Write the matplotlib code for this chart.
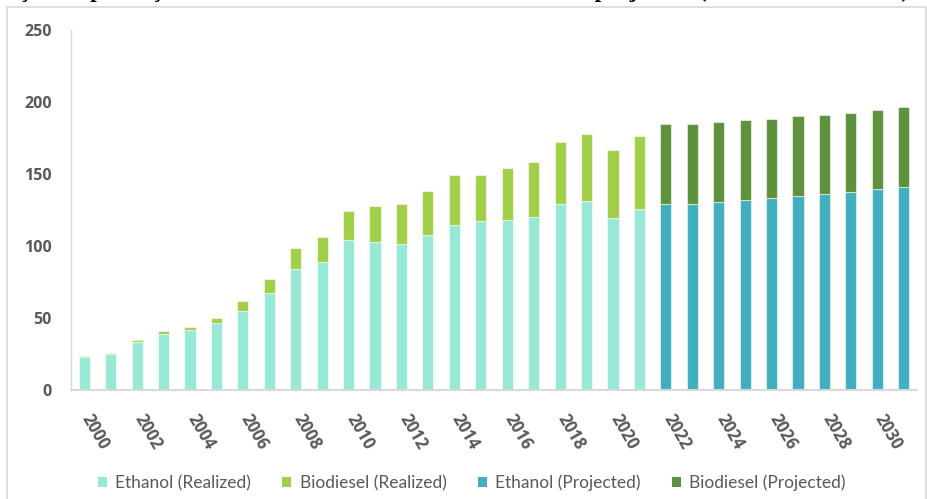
import matplotlib
matplotlib.use("Agg")
import matplotlib.pyplot as plt
from matplotlib.patches import Rectangle, Patch
from matplotlib.transforms import ScaledTranslation
import numpy as np

# Annual output, 2000-2031 (realized through 2021, projected afterwards)
years = list(range(2000, 2032))
ethanol = [23.0, 24.8, 33.3, 38.6, 41.4, 46.2, 55.2, 67.6, 84.1, 88.8,
           104.1, 103.0, 101.2, 107.4, 114.5, 117.5, 118.2, 120.0, 129.0, 131.0,
           119.3, 125.5,
           129.2, 129.2, 130.8, 131.7, 133.6, 134.5, 135.9, 137.7, 139.3, 140.7]
biodiesel = [0.6, 1.1, 1.2, 2.1, 2.5, 3.9, 6.4, 9.6, 14.3, 17.2,
             20.0, 24.8, 27.8, 31.0, 34.5, 31.5, 36.1, 38.4, 43.2, 46.5,
             47.6, 50.8,
             55.4, 55.4, 55.6, 55.9, 54.9, 55.6, 55.4, 54.9, 55.0, 55.6]
first_projected_year = 2022
tick_years = [str(y) for y in years if y % 2 == 0]
legend_labels = ["Ethanol (Realized)", "Biodiesel (Realized)",
                 "Ethanol (Projected)", "Biodiesel (Projected)"]
title_text = "Evolução da produção mundial de biocombustíveis realizada e projetada (em bilhões de litros)"

c_eth_real = "#98E8D6"
c_bio_real = "#A2CF4A"
c_eth_proj = "#41AFBF"
c_bio_proj = "#5E913C"
text_gray = "#595959"
axis_gray = "#D9D9D9"

plt.rcParams["font.family"] = ["Lato", "DejaVu Sans"]

fig = plt.figure(figsize=(9.27, 4.99), dpi=100)
ax = fig.add_axes([71 / 927, 1 - 390 / 499, (917 - 71) / 927, (390 - 30) / 499])

x = np.arange(len(years))
proj = np.array([y >= first_projected_year for y in years])
eth = np.array(ethanol)
bio = np.array(biodiesel)

eth_colors = [c_eth_proj if p else c_eth_real for p in proj]
bio_colors = [c_bio_proj if p else c_bio_real for p in proj]

edge = (1, 1, 1, 0.55)
ax.bar(x, eth, width=0.42, color=eth_colors, edgecolor=edge, linewidth=0.8)
ax.bar(x, bio, bottom=eth, width=0.42, color=bio_colors, edgecolor=edge, linewidth=0.8)

ax.set_xlim(-0.5, len(years) - 0.5)
ax.set_ylim(0, 250)
ax.set_yticks([0, 50, 100, 150, 200, 250])
ax.set_yticklabels(["0", "50", "100", "150", "200", "250"],
                   family=["Open Sans", "DejaVu Sans"], fontweight="bold",
                   fontsize=11.5, color=text_gray)
ax.tick_params(axis="y", length=0, pad=14)

even_idx = [i for i, y in enumerate(years) if y % 2 == 0]
ax.set_xticks(even_idx)
ax.set_xticklabels(tick_years, rotation=-60, ha="left", va="top",
                   rotation_mode="default", fontsize=12, color=text_gray,
                   family=["Open Sans", "DejaVu Sans"], fontweight="bold")
ax.tick_params(axis="x", length=0, pad=15)
shift = ScaledTranslation(-6 / 100, 0, fig.dpi_scale_trans)
for lbl in ax.get_xticklabels():
    lbl.set_transform(lbl.get_transform() + shift)

for side in ["top", "right"]:
    ax.spines[side].set_visible(False)
ax.spines["left"].set_color(axis_gray)
ax.spines["bottom"].set_color(axis_gray)
ax.spines["left"].set_linewidth(1.0)
ax.spines["bottom"].set_linewidth(1.5)

handles = [Patch(facecolor=c) for c in [c_eth_real, c_bio_real, c_eth_proj, c_bio_proj]]
fig.legend(handles, legend_labels, loc="center left",
           bbox_to_anchor=(98 / 927, 1 - 483 / 499),
           ncol=4, frameon=False, fontsize=12.5, labelcolor=text_gray,
           handlelength=0.5, handleheight=0.5, handletextpad=0.5,
           columnspacing=1.8, borderpad=0, borderaxespad=0)

# Outer chart frame
fig.patches.append(Rectangle((7 / 927, -0.01), (926 - 7) / 927, 1 - 7 / 499 + 0.01,
                             transform=fig.transFigure, fill=False,
                             edgecolor=axis_gray, linewidth=1.2))

# Heading of the surrounding document, running off the top edge
fig.text(-40 / 927, 1.0 + 3 / 499, title_text, family=["Liberation Serif"], fontweight="bold",
         fontsize=17, color="black", ha="left", va="baseline")

fig.savefig("out.png", dpi=100)
